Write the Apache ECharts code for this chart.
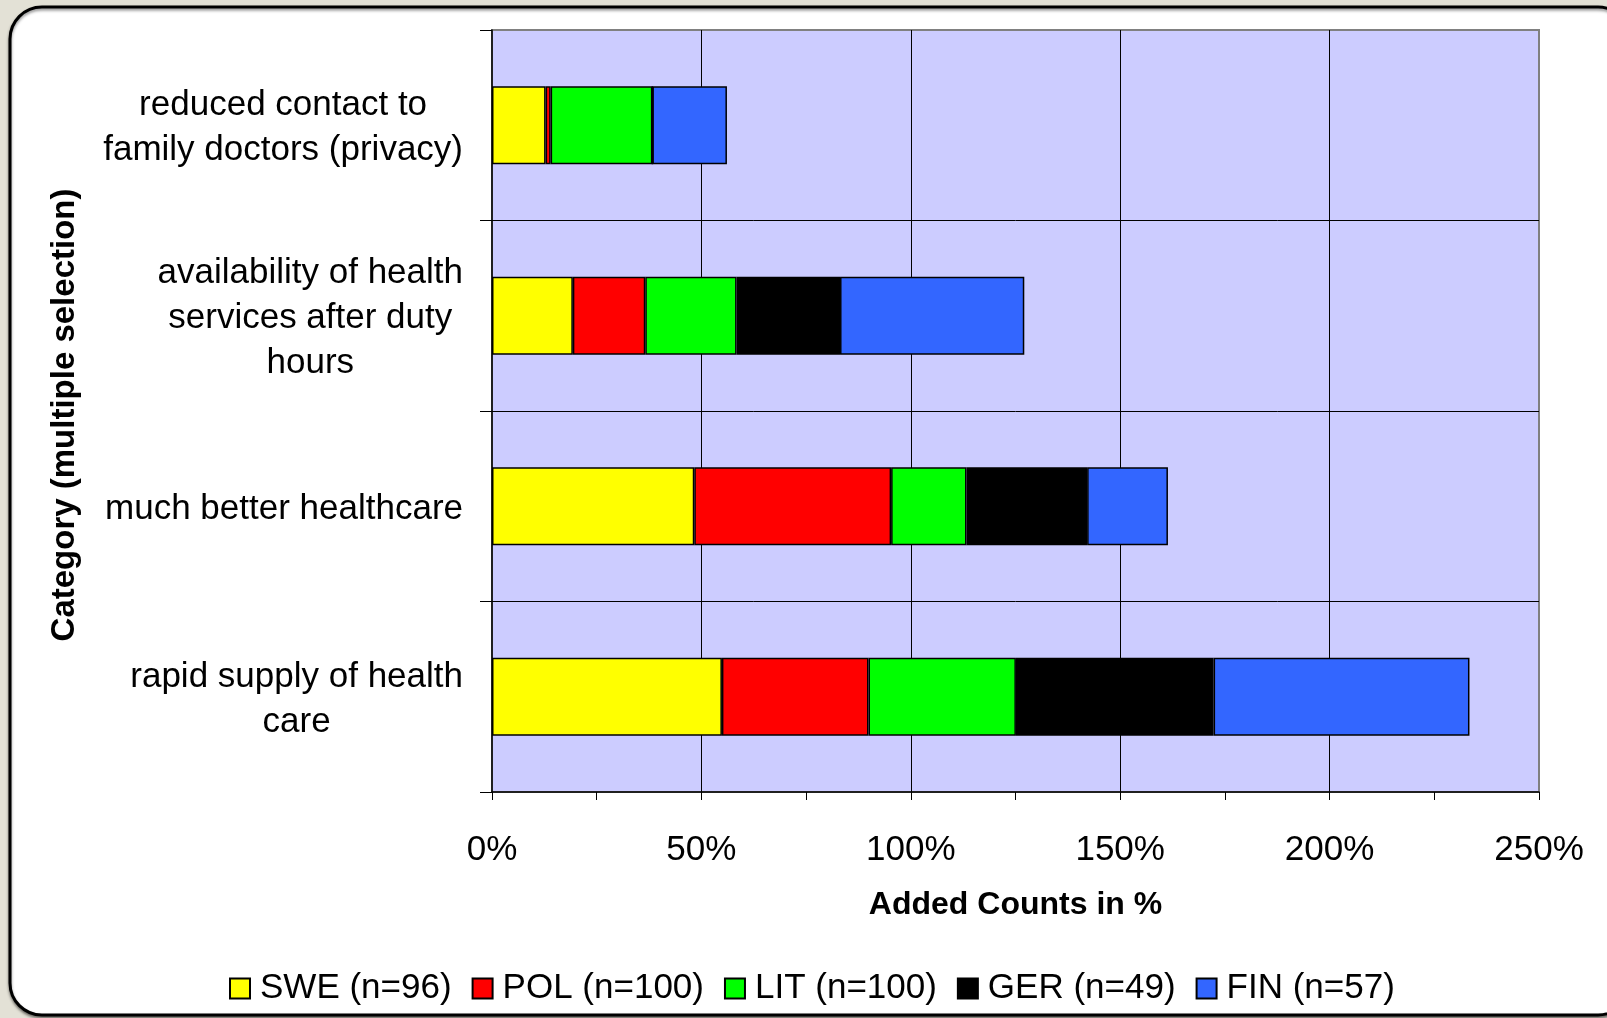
<!DOCTYPE html>
<html>
<head>
<meta charset="utf-8">
<script src="https://cdn.jsdelivr.net/npm/echarts@6/dist/echarts.min.js"></script>
<style>
html, body { margin: 0; padding: 0; background: #e3e1d6; }
#chart { width: 1607px; height: 1018px; }
</style>
</head>
<body>
<div id="chart"></div>
<script>
// categories, bottom to top
var categories = [
	'rapid supply of health\ncare',
	'much better healthcare',
	'availability of health\nservices after duty\nhours',
	'reduced contact to\nfamily doctors (privacy)'
];
var seriesNames = ['SWE (n=96)', 'POL (n=100)', 'LIT (n=100)', 'GER (n=49)', 'FIN (n=57)'];
var seriesColors = ['#ffff00', '#ff0000', '#00ff00', '#000000', '#3366ff'];

// added counts in %
var swe = [54.9, 48.3, 19.3, 12.8];
var pol = [35.0, 47.0, 17.3, 1.2];
var lit = [35.2, 18.0, 21.8, 24.3];
var ger = [47.2, 28.8, 24.7, 0];
var fin = [61.1, 19.3, 44.0, 17.8];
var values = [swe, pol, lit, ger, fin];

var xTicks = [0, 50, 100, 150, 200, 250];

var font = 'Liberation Sans, Arial, sans-serif';

var myChart = echarts.init(document.getElementById('chart'));

var option = {
	backgroundColor: '#e3e1d6',
	animation: false,
	graphic: {
		elements: [{
			type: 'rect',
			z: -10,
			shape: { x: 10, y: 7, width: 1620, height: 1008, r: 32 },
			style: {
				fill: '#ffffff',
				stroke: '#000000',
				lineWidth: 3,
				shadowColor: 'rgba(0,0,0,0.45)',
				shadowBlur: 3,
				shadowOffsetY: 2
			}
		}]
	},
	grid: {
		left: 492,
		right: 68,
		top: 30,
		bottom: 226,
		show: true,
		backgroundColor: '#ccccff',
		borderColor: '#808080',
		borderWidth: 2
	},
	legend: {
		left: 224,
		top: 966,
		itemWidth: 20,
		itemHeight: 20,
		itemGap: 20,
		icon: 'rect',
		textStyle: { fontFamily: font, fontSize: 35, color: '#000', padding: [0, 0, 0, 5] },
		data: seriesNames
	},
	xAxis: {
		type: 'value',
		min: xTicks[0],
		max: xTicks[xTicks.length - 1],
		interval: 50,
		name: 'Added Counts in %',
		nameLocation: 'middle',
		nameGap: 97,
		nameTextStyle: { fontFamily: font, fontSize: 32, fontWeight: 'bold', color: '#000' },
		axisLine: { show: true, lineStyle: { color: '#000', width: 1.5 } },
		axisTick: { show: true, length: 8, lineStyle: { color: '#000', width: 1 } },
		minorTick: { show: true, splitNumber: 2, length: 8, lineStyle: { color: '#000', width: 1 } },
		axisLabel: {
			margin: 41,
			fontFamily: font,
			fontSize: 35,
			color: '#000',
			formatter: '{value}%'
		},
		splitLine: {
			show: true,
			showMinLine: false,
			showMaxLine: false,
			lineStyle: { color: '#000', width: 1 }
		}
	},
	yAxis: {
		type: 'category',
		data: categories,
		name: 'Category (multiple selection)',
		nameLocation: 'middle',
		nameGap: 411,
		nameTextStyle: { fontFamily: font, fontSize: 33, fontWeight: 'bold', color: '#000', padding: [0, 8, 0, 0] },
		axisLine: { show: true, lineStyle: { color: '#000', width: 1.5 } },
		axisTick: { show: true, length: 12, lineStyle: { color: '#000', width: 1 } },
		axisLabel: {
			margin: 29,
			align: 'right',
			padding: [6, 0, 0, 0],
			formatter: function(v) {
				return v.split('\n').map(function(l) { return '{c|' + l + '}'; }).join('\n');
			},
			rich: {
				c: {
					align: 'center',
					fontFamily: font,
					fontSize: 35,
					lineHeight: 45,
					color: '#000'
				}
			}
		},
		splitLine: {
			show: true,
			showMinLine: false,
			showMaxLine: false,
			lineStyle: { color: '#000', width: 1 }
		}
	},
	series: seriesNames.map(function(name, i) {
		return {
			name: name,
			type: 'bar',
			stack: 'total',
			barWidth: '41%',
			data: values[i],
			itemStyle: {
				color: seriesColors[i],
				borderColor: '#000',
				borderWidth: 1.5
			}
		};
	})
};

myChart.setOption(option);
</script>
</body>
</html>
